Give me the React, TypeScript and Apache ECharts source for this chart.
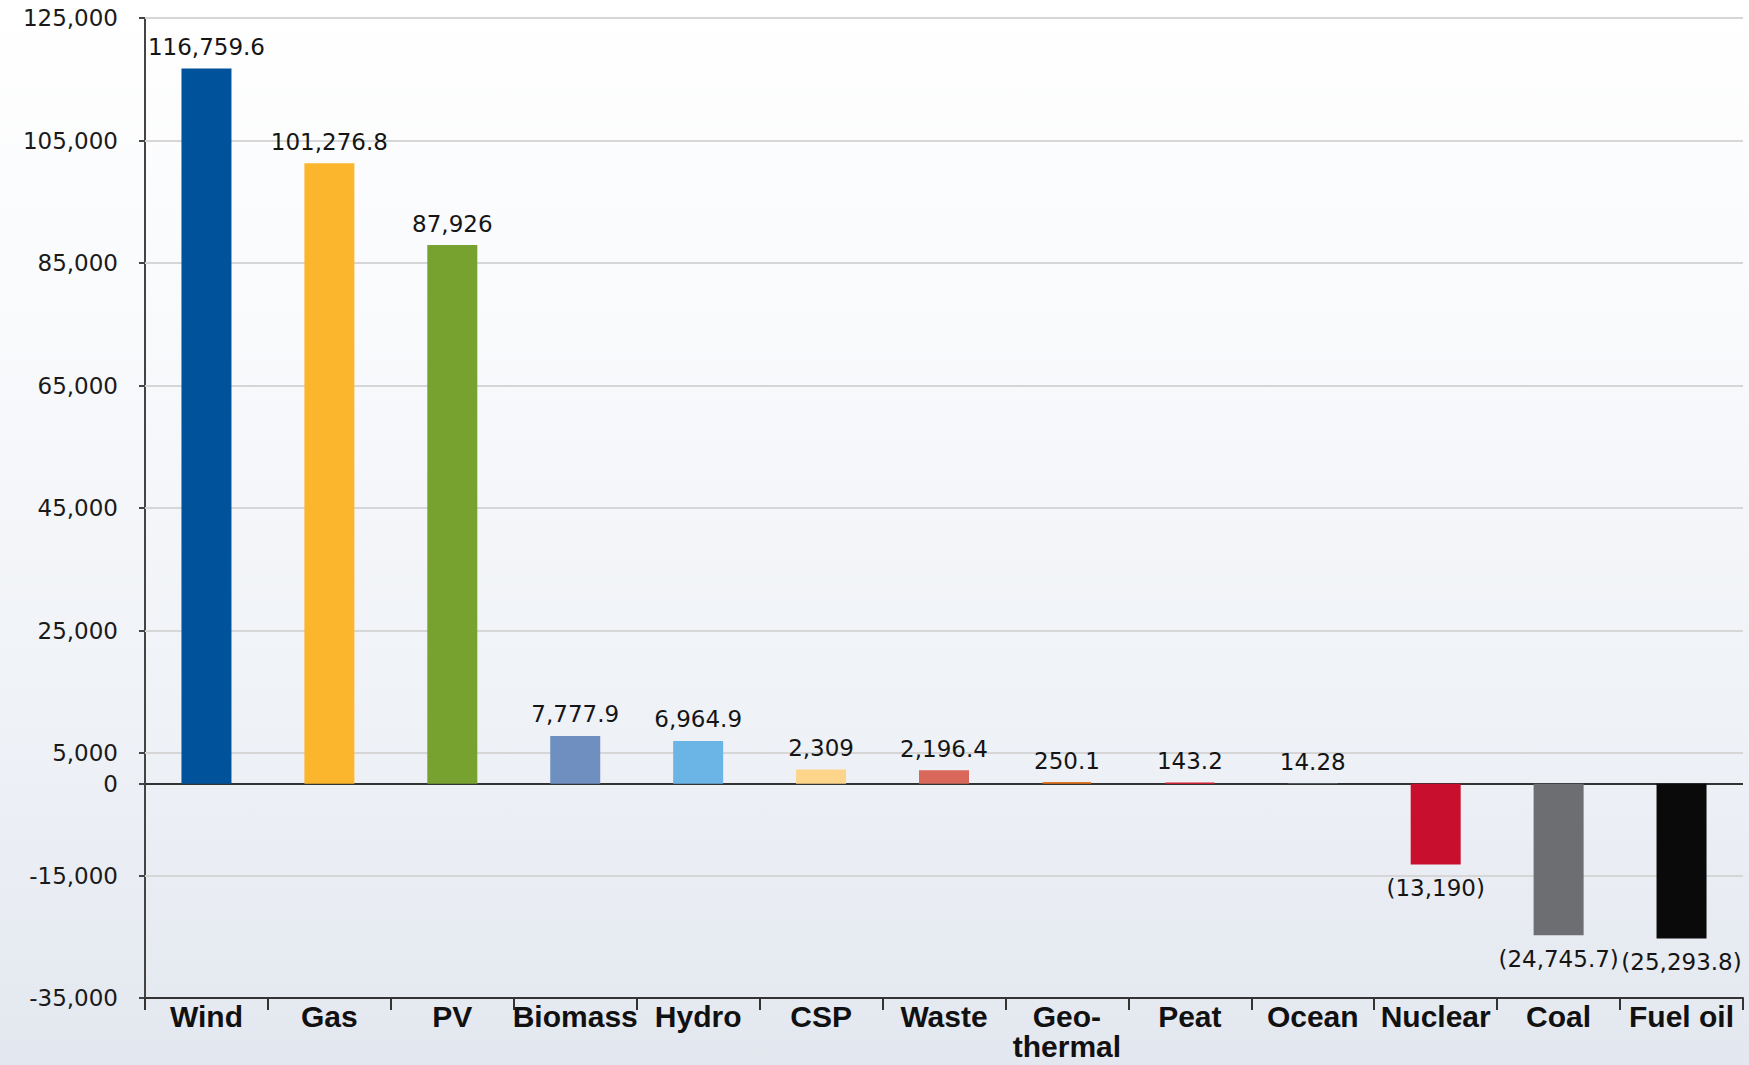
import React, { useEffect, useRef } from "react";
import * as echarts from "echarts";

const categories = ["Wind", "Gas", "PV", "Biomass", "Hydro", "CSP", "Waste", "Geo-\nthermal", "Peat", "Ocean", "Nuclear", "Coal", "Fuel oil"];
const values = [116759.6, 101276.8, 87926, 7777.9, 6964.9, 2309, 2196.4, 250.1, 143.2, 14.28, -13190, -24745.7, -25293.8];
const barColors = ["#00539b", "#fbb62e", "#78a22f", "#6f8fc0", "#6bb4e6", "#fdd58a", "#d9685a", "#e8761e", "#cc1f30", "#9ecae1", "#c8102e", "#6d6e71", "#0a0a0a"];
const thinBars = ["Geo-\nthermal", "Peat"];
const yTicks = [-35000, -15000, 0, 5000, 25000, 45000, 65000, 85000, 105000, 125000];
const yGridLines = [-15000, 5000, 25000, 45000, 65000, 85000, 105000, 125000];

const fmt = (v: number) => {
  const s = Math.abs(v).toLocaleString("en-US", { maximumFractionDigits: 2 });
  return v < 0 ? `(${s})` : s;
};

export default function App() {
  const ref = useRef<HTMLDivElement>(null);
  useEffect(() => {
    if (!ref.current) return;
    const chart = echarts.init(ref.current, null, { renderer: "svg" });
    chart.setOption({
      animation: false,
      grid: { left: 145, right: 6, top: 18, bottom: 67, containLabel: false, outerBoundsMode: "none" },
      xAxis: {
        type: "category",
        data: categories,
        position: "bottom",
        axisLine: { onZero: false, lineStyle: { color: "#333", width: 2 } },
        axisTick: { show: true, length: 12, lineStyle: { color: "#333", width: 2 } },
        axisLabel: {
          interval: 0,
          margin: 3,
          fontFamily: "'Liberation Sans Narrow', 'Liberation Sans', sans-serif",
          fontWeight: "bold",
          fontSize: 30,
          lineHeight: 30,
          color: "#111",
        },
        splitLine: { show: false },
      },
      yAxis: {
        type: "value",
        min: -35000,
        max: 125000,
        interval: 5000,
        axisLine: { show: true, lineStyle: { color: "#444", width: 2 } },
        axisTick: { show: true, length: 6, customValues: yTicks, lineStyle: { color: "#444", width: 2 } },
        axisLabel: {
          customValues: yTicks,
          margin: 27,
          fontFamily: "'DejaVu Sans', sans-serif",
          fontSize: 23,
          color: "#1a1a1a",
          formatter: (v: number) => v.toLocaleString("en-US"),
        },
        splitLine: { show: false },
      },
      series: [
        {
          type: "line",
          data: [],
          z: 1,
          markLine: {
            silent: true,
            symbol: "none",
            z: 1,
            label: { show: false },
            animation: false,
            data: yGridLines.map((y) => ({ yAxis: y, lineStyle: { color: "#d6d6d6", width: 2, type: "solid" } })),
          },
        },
        {
          type: "bar",
          barWidth: 50,
          z: 3,
          data: values.map((v, i) => ({
            value: v,
            itemStyle: thinBars.includes(categories[i])
              ? { color: barColors[i], borderColor: barColors[i], borderWidth: 1.6 }
              : { color: barColors[i] },
            label: { position: v < 0 ? "bottom" : "top", distance: v < 0 ? 12 : 10 },
          })),
          label: {
            show: true,
            fontFamily: "'DejaVu Sans', sans-serif",
            fontSize: 23,
            color: "#151515",
            formatter: (p: any) => fmt(p.value),
          },
        },
        {
          type: "line",
          data: [],
          z: 4,
          markLine: {
            silent: true,
            symbol: "none",
            z: 2,
            label: { show: false },
            animation: false,
            data: [{ yAxis: 0, lineStyle: { color: "#333", width: 2, type: "solid" } }],
          },
        },
      ],
    });
    return () => chart.dispose();
  }, []);
  return (
    <div
      style={{
        position: "absolute",
        left: 0,
        top: 0,
        width: 1749,
        height: 1065,
        background: "linear-gradient(to bottom, #ffffff 0%, #f9fafc 30%, #eef1f6 70%, #e3e7ef 100%)",
      }}
    >
      <div ref={ref} style={{ width: 1749, height: 1065 }} />
    </div>
  );
}
